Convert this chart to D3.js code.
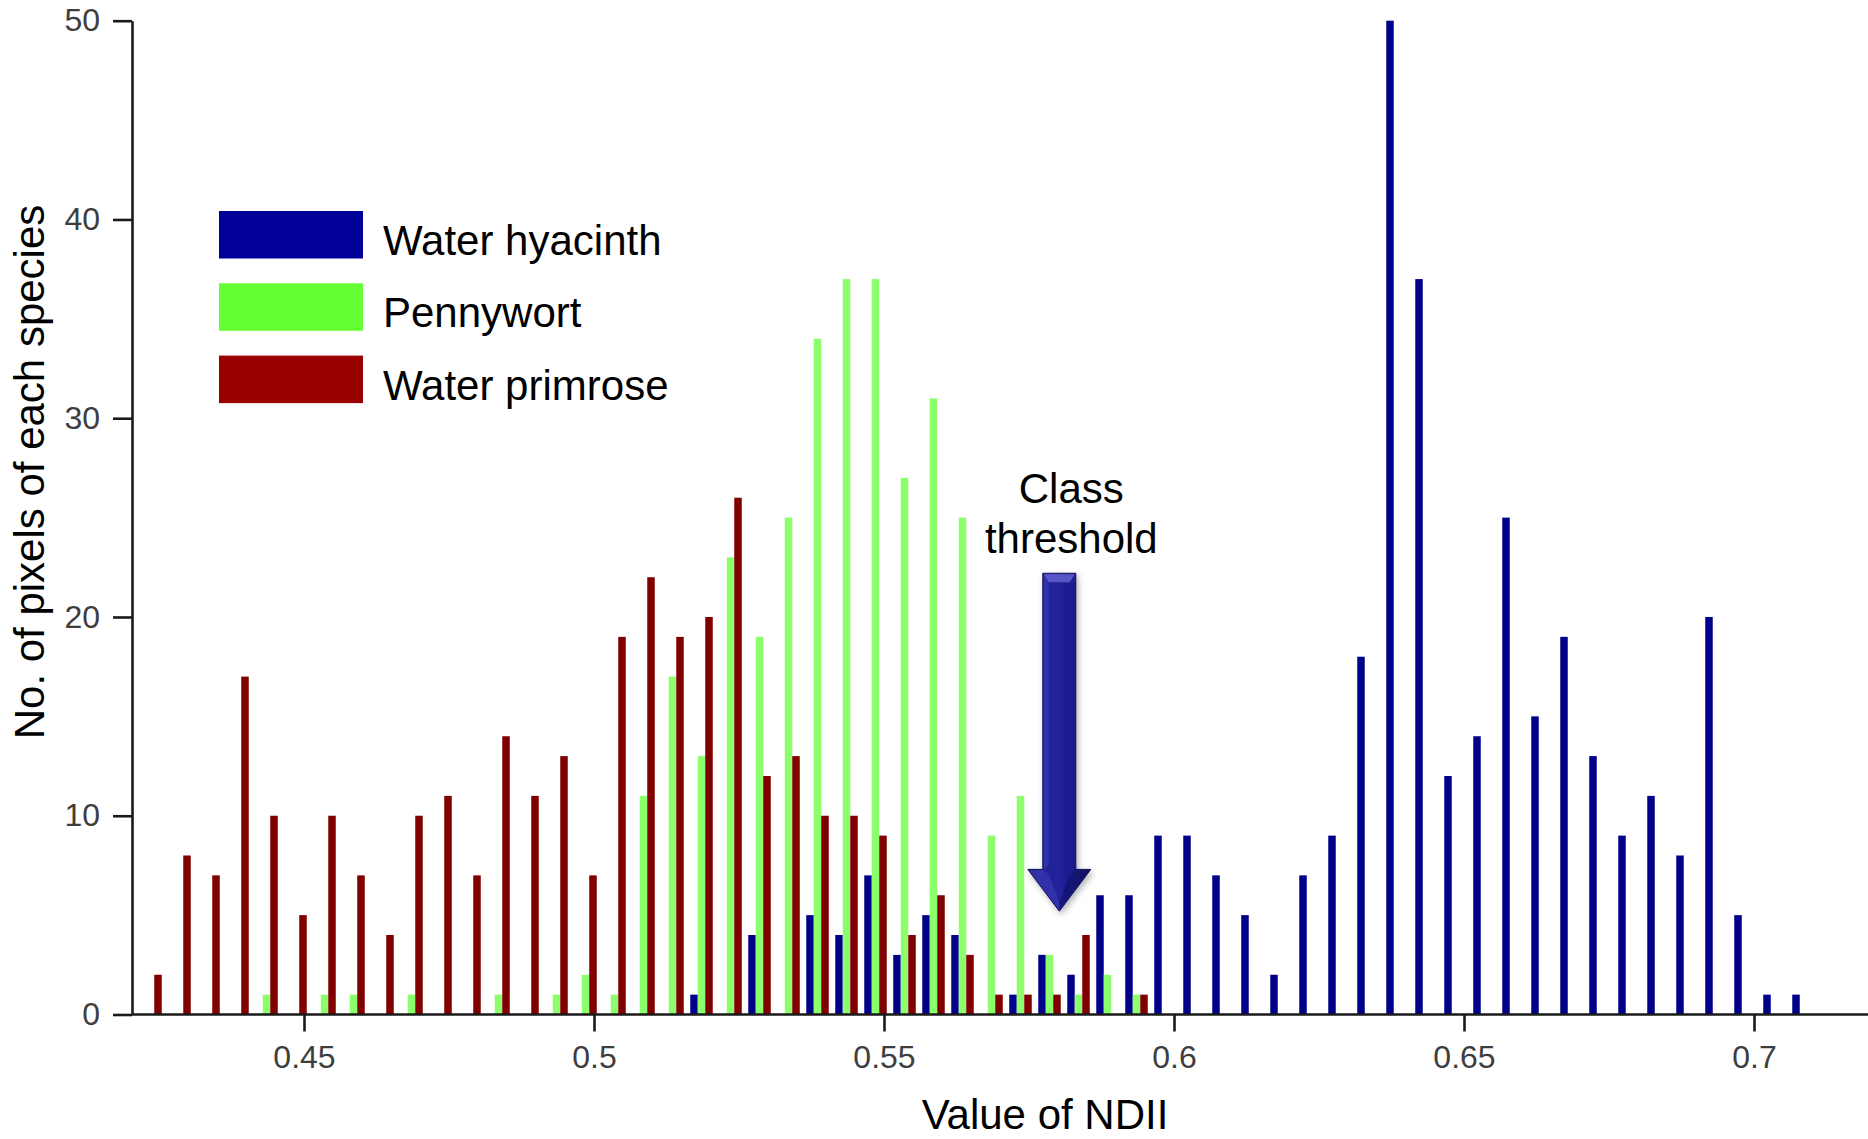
<!DOCTYPE html>
<html>
<head>
<meta charset="utf-8">
<script src="https://cdn.jsdelivr.net/npm/d3@7"></script>
<style>
  html, body { margin: 0; padding: 0; background: #fff; }
  svg { display: block; }
</style>
</head>
<body>
<svg id="chart" width="1868" height="1139"></svg>
<script>
// NDII histogram bins (bin value, step 0.005)
const ndiiBins = [0.425, 0.43, 0.435, 0.44, 0.445, 0.45, 0.455, 0.46, 0.465, 0.47,
  0.475, 0.48, 0.485, 0.49, 0.495, 0.5, 0.505, 0.51, 0.515, 0.52,
  0.525, 0.53, 0.535, 0.54, 0.545, 0.55, 0.555, 0.56, 0.565, 0.57,
  0.575, 0.58, 0.585, 0.59, 0.595, 0.6, 0.605, 0.61, 0.615, 0.62,
  0.625, 0.63, 0.635, 0.64, 0.645, 0.65, 0.655, 0.66, 0.665, 0.67,
  0.675, 0.68, 0.685, 0.69, 0.695, 0.7, 0.705, 0.71];

// Pixel counts per bin for each species
const waterHyacinth = [0, 0, 0, 0, 0, 0, 0, 0, 0, 0,
  0, 0, 0, 0, 0, 0, 0, 0, 0, 1,
  0, 4, 0, 5, 4, 7, 3, 5, 4, 0,
  1, 3, 2, 6, 6, 9, 9, 7, 5, 2,
  7, 9, 18, 50, 37, 12, 14, 25, 15, 19,
  13, 9, 11, 8, 20, 5, 1, 1];
const pennywort = [0, 0, 0, 0, 1, 0, 1, 1, 0, 1,
  0, 0, 1, 0, 1, 2, 1, 11, 17, 13,
  23, 19, 25, 34, 37, 37, 27, 31, 25, 9,
  11, 3, 1, 2, 1, 0, 0, 0, 0, 0,
  0, 0, 0, 0, 0, 0, 0, 0, 0, 0,
  0, 0, 0, 0, 0, 0, 0, 0];
const waterPrimrose = [2, 8, 7, 17, 10, 5, 10, 7, 4, 10,
  11, 7, 14, 11, 13, 7, 19, 22, 19, 20,
  26, 12, 13, 10, 10, 9, 4, 6, 3, 1,
  1, 1, 4, 0, 1, 0, 0, 0, 0, 0,
  0, 0, 0, 0, 0, 0, 0, 0, 0, 0,
  0, 0, 0, 0, 0, 0, 0, 0];

const seriesNames = ["Water hyacinth", "Pennywort", "Water primrose"];
const xTickValues = [0.45, 0.5, 0.55, 0.6, 0.65, 0.7];
const yTickValues = [0, 10, 20, 30, 40, 50];
const classThreshold = 0.58;

const barColors = { "Water hyacinth": "#00008a", "Pennywort": "#8cff6c", "Water primrose": "#800000" };
const legendColors = { "Water hyacinth": "#000099", "Pennywort": "#66ff33", "Water primrose": "#990000" };
const seriesData = { "Water hyacinth": waterHyacinth, "Pennywort": pennywort, "Water primrose": waterPrimrose };

const svg = d3.select("#chart");
const font = "'Liberation Sans', Arial, Helvetica, sans-serif";

const x = d3.scaleLinear().domain([0.42, 0.72]).range([130, 1870]);
const y = d3.scaleLinear().domain([0, 50]).range([1014.5, 20.7]);
// position of each species bar inside a bin cluster
const inner = d3.scaleBand().domain(seriesNames).range([-19.75, 2.75]).padding(0);

// bars
const barsG = svg.append("g").attr("class", "bars");
seriesNames.forEach(name => {
  const rows = ndiiBins.map((b, i) => ({ bin: b, value: seriesData[name][i] })).filter(d => d.value > 0);
  barsG.append("g")
    .attr("fill", barColors[name])
    .selectAll("rect")
    .data(rows)
    .join("rect")
    .attr("x", d => x(d.bin) + inner(name))
    .attr("width", inner.bandwidth())
    .attr("y", d => y(d.value))
    .attr("height", d => y(0) - y(d.value));
});

// axes
const xAxis = svg.append("g")
  .attr("transform", `translate(0,${y(0)})`)
  .call(d3.axisBottom(x).tickValues(xTickValues).tickSize(17).tickSizeOuter(0).tickPadding(14)
    .tickFormat(d => String(+d.toFixed(2))));
xAxis.select(".domain").attr("d", `M132,0H1868`);
const yAxis = svg.append("g")
  .attr("transform", "translate(132,0)")
  .call(d3.axisLeft(y).tickValues(yTickValues).tickSize(19).tickSizeOuter(0).tickPadding(13));

[xAxis, yAxis].forEach(g => {
  g.select(".domain").attr("stroke", "#1a1a1a").attr("stroke-width", 2.6);
  g.selectAll(".tick line").attr("stroke", "#1a1a1a").attr("stroke-width", 2.6);
  g.selectAll(".tick text")
    .attr("font-family", font)
    .attr("font-size", 32)
    .attr("fill", "#3e3e3e");
});

// axis titles
svg.append("text")
  .attr("x", 1045).attr("y", 1129)
  .attr("text-anchor", "middle")
  .attr("font-family", font).attr("font-size", 42).attr("fill", "#000")
  .text("Value of NDII");
svg.append("text")
  .attr("transform", "translate(43.5,472) rotate(-90)")
  .attr("text-anchor", "middle")
  .attr("font-family", font).attr("font-size", 42).attr("fill", "#000")
  .text("No. of pixels of each species");

// legend
const legend = svg.append("g").attr("transform", "translate(219,211)");
seriesNames.forEach((name, i) => {
  const g = legend.append("g").attr("transform", `translate(0,${i * 72.3})`);
  g.append("rect").attr("width", 144).attr("height", 47.5).attr("fill", legendColors[name]);
  g.append("text")
    .attr("x", 164).attr("y", 44)
    .attr("font-family", font).attr("font-size", 42).attr("fill", "#000")
    .text(name);
});

// class threshold annotation
const defs = svg.append("defs");
const grad = defs.append("linearGradient").attr("id", "arrowFill")
  .attr("x1", "0%").attr("x2", "100%").attr("y1", "0%").attr("y2", "0%");
grad.append("stop").attr("offset", "0%").attr("stop-color", "#13136a");
grad.append("stop").attr("offset", "18%").attr("stop-color", "#24249a");
grad.append("stop").attr("offset", "50%").attr("stop-color", "#21219a");
grad.append("stop").attr("offset", "82%").attr("stop-color", "#1a1a82");
grad.append("stop").attr("offset", "100%").attr("stop-color", "#0e0e58");
const shadow = defs.append("filter").attr("id", "arrowShadow")
  .attr("x", "-50%").attr("y", "-10%").attr("width", "200%").attr("height", "120%");
shadow.append("feDropShadow").attr("dx", 2).attr("dy", 3).attr("stdDeviation", 3)
  .attr("flood-color", "#000").attr("flood-opacity", 0.3);

const ax = x(classThreshold) + 1.3;
const aTop = y(22.2), aHead = y(7.3), aTip = y(5.2);
const shaftHalf = 16.5, headHalf = 31.5;
const arrow = svg.append("g").attr("class", "threshold-arrow");
arrow.append("path")
  .attr("d", `M${ax - shaftHalf},${aTop}H${ax + shaftHalf}V${aHead}H${ax + headHalf}L${ax},${aTip}L${ax - headHalf},${aHead}H${ax - shaftHalf}Z`)
  .attr("fill", "url(#arrowFill)")
  .attr("stroke", "#121260").attr("stroke-width", 1)
  .attr("filter", "url(#arrowShadow)");
// bevel highlights
arrow.append("path")
  .attr("d", `M${ax - shaftHalf + 1},${aTop + 1}H${ax + shaftHalf - 1}L${ax + shaftHalf - 6},${aTop + 9}H${ax - shaftHalf + 6}Z`)
  .attr("fill", "#6a6ad6").attr("opacity", 0.75);
arrow.append("path")
  .attr("d", `M${ax - shaftHalf + 1},${aTop + 1}L${ax - shaftHalf + 6},${aTop + 9}V${aHead - 4}L${ax - shaftHalf + 1},${aHead}Z`)
  .attr("fill", "#3535ad").attr("opacity", 0.7);
arrow.append("path")
  .attr("d", `M${ax - headHalf + 1},${aHead + 0.5}H${ax - shaftHalf}L${ax - shaftHalf + 6},${aHead + 5}L${ax},${aTip - 9}L${ax},${aTip - 1}Z`)
  .attr("fill", "#3c3cb6").attr("opacity", 0.6);
arrow.append("path")
  .attr("d", `M${ax + headHalf - 1},${aHead + 0.5}H${ax + shaftHalf}L${ax + shaftHalf - 6},${aHead + 5}L${ax},${aTip - 9}L${ax},${aTip - 1}Z`)
  .attr("fill", "#0e0e58").attr("opacity", 0.45);

svg.append("text")
  .attr("x", ax + 12).attr("y", 503)
  .attr("text-anchor", "middle")
  .attr("font-family", font).attr("font-size", 42).attr("fill", "#000")
  .text("Class");
svg.append("text")
  .attr("x", ax + 12).attr("y", 553)
  .attr("text-anchor", "middle")
  .attr("font-family", font).attr("font-size", 42).attr("fill", "#000")
  .text("threshold");
</script>
</body>
</html>
